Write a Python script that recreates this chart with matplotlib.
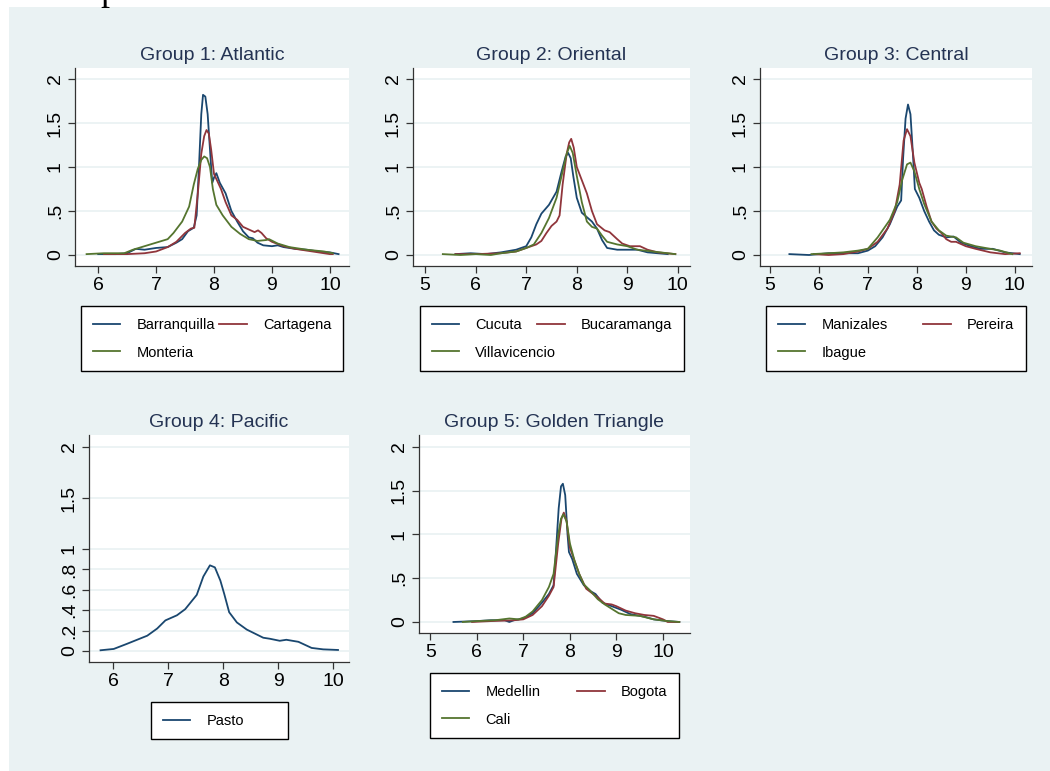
import matplotlib
matplotlib.use('Agg')
import matplotlib.pyplot as plt
from matplotlib.patches import Rectangle

plt.rcParams['font.family'] = ['Liberation Sans', 'DejaVu Sans']

W, H = 1050, 771

navy = '#1a476f'
maroon = '#90353b'
green = '#55752f'
bg = '#eaf2f3'
title_col = '#243353'

# ---- data ----
# group 1: Atlantic
bq_x = [6.0, 6.3, 6.5, 6.65, 6.8, 7.0, 7.2, 7.35, 7.45, 7.55, 7.65, 7.7, 7.74, 7.78, 7.81, 7.85, 7.89, 7.92,
        7.95, 7.97, 8.0, 8.04, 8.1, 8.2, 8.3, 8.4, 8.5, 8.6, 8.67, 8.75, 8.85, 9.0, 9.1, 9.2, 9.4, 9.6, 9.8, 10.0, 10.15]
bq_y = [0.01, 0.01, 0.02, 0.07, 0.06, 0.08, 0.09, 0.14, 0.18, 0.27, 0.31, 0.45, 1.0, 1.6, 1.82, 1.8, 1.6, 1.3,
        1.0, 0.82, 0.88, 0.93, 0.82, 0.7, 0.5, 0.38, 0.27, 0.2, 0.19, 0.14, 0.11, 0.1, 0.11, 0.09, 0.07, 0.06, 0.04, 0.03, 0.01]
ct_x = [6.1, 6.5, 6.8, 7.0, 7.2, 7.35, 7.5, 7.6, 7.66, 7.72, 7.78, 7.83, 7.87, 7.91, 7.95, 8.0, 8.05, 8.12,
        8.2, 8.3, 8.4, 8.5, 8.6, 8.7, 8.76, 8.82, 8.9, 9.0, 9.2, 9.4, 9.6, 9.8, 10.0, 10.05]
ct_y = [0.01, 0.01, 0.02, 0.04, 0.09, 0.15, 0.25, 0.3, 0.31, 0.7, 1.15, 1.35, 1.42, 1.38, 1.2, 0.92, 0.85, 0.75,
        0.6, 0.45, 0.4, 0.32, 0.29, 0.26, 0.28, 0.25, 0.19, 0.15, 0.1, 0.07, 0.05, 0.03, 0.01, 0.01]
mt_x = [5.8, 6.1, 6.45, 6.6, 6.8, 7.0, 7.2, 7.3, 7.45, 7.57, 7.65, 7.72, 7.78, 7.83, 7.88, 7.93, 7.98, 8.04,
        8.15, 8.3, 8.45, 8.6, 8.75, 8.9, 8.95, 9.1, 9.3, 9.6, 9.9, 10.05]
mt_y = [0.01, 0.02, 0.02, 0.06, 0.1, 0.14, 0.18, 0.25, 0.38, 0.55, 0.8, 0.98, 1.08, 1.12, 1.1, 1.0, 0.75, 0.57,
        0.45, 0.32, 0.24, 0.18, 0.16, 0.17, 0.18, 0.13, 0.09, 0.06, 0.04, 0.02]

# group 2: Oriental
cu_x = [5.6, 5.9, 6.2, 6.5, 6.8, 7.0, 7.1, 7.2, 7.3, 7.45, 7.6, 7.7, 7.78, 7.83, 7.88, 7.93, 8.0, 8.1,
        8.2, 8.3, 8.4, 8.5, 8.6, 8.8, 9.0, 9.2, 9.4, 9.6, 9.8]
cu_y = [0.01, 0.02, 0.01, 0.03, 0.06, 0.1, 0.2, 0.35, 0.47, 0.57, 0.72, 0.95, 1.12, 1.16, 1.1, 0.9, 0.65, 0.48,
        0.43, 0.38, 0.3, 0.17, 0.08, 0.06, 0.06, 0.06, 0.03, 0.02, 0.01]
bu_x = [5.6, 6.0, 6.5, 6.8, 7.0, 7.2, 7.3, 7.4, 7.5, 7.6, 7.66, 7.72, 7.8, 7.85, 7.89, 7.94, 8.0, 8.1,
        8.2, 8.3, 8.4, 8.55, 8.65, 8.8, 8.9, 9.05, 9.25, 9.4, 9.6, 9.95]
bu_y = [0.01, 0.01, 0.02, 0.04, 0.08, 0.12, 0.16, 0.25, 0.33, 0.38, 0.45, 0.8, 1.15, 1.28, 1.32, 1.22, 1.0, 0.85,
        0.7, 0.5, 0.35, 0.28, 0.26, 0.18, 0.13, 0.1, 0.1, 0.06, 0.03, 0.01]
vi_x = [5.35, 5.7, 6.0, 6.3, 6.5, 6.8, 7.0, 7.15, 7.3, 7.45, 7.6, 7.72, 7.8, 7.86, 7.92, 8.0, 8.1, 8.2,
        8.3, 8.4, 8.5, 8.6, 8.8, 9.0, 9.2, 9.5, 9.95]
vi_y = [0.01, 0.0, 0.01, 0.0, 0.02, 0.04, 0.08, 0.12, 0.25, 0.42, 0.65, 0.95, 1.15, 1.24, 1.16, 0.9, 0.6, 0.38,
        0.32, 0.3, 0.22, 0.15, 0.12, 0.1, 0.06, 0.04, 0.01]

# group 3: Central
mz_x = [5.4, 5.8, 6.0, 6.2, 6.6, 6.8, 7.0, 7.15, 7.3, 7.45, 7.6, 7.68, 7.72, 7.77, 7.82, 7.87, 7.92, 7.96,
        8.05, 8.15, 8.25, 8.35, 8.45, 8.6, 8.75, 8.9, 9.1, 9.3, 9.55, 9.8, 10.1]
mz_y = [0.01, 0.0, 0.01, 0.02, 0.02, 0.02, 0.05, 0.1, 0.2, 0.35, 0.55, 0.62, 1.1, 1.55, 1.71, 1.6, 1.15, 0.75,
        0.65, 0.5, 0.38, 0.28, 0.23, 0.2, 0.21, 0.14, 0.1, 0.07, 0.07, 0.03, 0.01]
pe_x = [5.9, 6.2, 6.5, 6.8, 7.0, 7.2, 7.4, 7.55, 7.65, 7.73, 7.8, 7.87, 7.95, 8.05, 8.1, 8.2, 8.3, 8.4,
        8.5, 8.6, 8.7, 8.8, 9.0, 9.2, 9.5, 9.8, 10.1]
pe_y = [0.01, 0.0, 0.01, 0.04, 0.07, 0.15, 0.3, 0.5, 0.8, 1.3, 1.43, 1.35, 1.05, 0.82, 0.75, 0.55, 0.38, 0.3,
        0.25, 0.18, 0.15, 0.15, 0.1, 0.07, 0.03, 0.01, 0.02]
ib_x = [5.85, 6.2, 6.5, 6.8, 7.0, 7.2, 7.3, 7.45, 7.6, 7.7, 7.8, 7.87, 7.95, 8.05, 8.15, 8.3, 8.45, 8.6,
        8.8, 8.95, 9.2, 9.5, 9.7, 9.95]
ib_y = [0.01, 0.02, 0.03, 0.05, 0.07, 0.2, 0.28, 0.4, 0.6, 0.85, 1.03, 1.05, 0.95, 0.75, 0.58, 0.38, 0.28, 0.22,
        0.2, 0.14, 0.1, 0.07, 0.05, 0.01]

# group 4: Pacific
pa_x = [5.77, 6.01, 6.25, 6.62, 6.8, 6.95, 7.16, 7.31, 7.52, 7.64, 7.76, 7.85, 7.95, 8.02, 8.11, 8.25, 8.43,
        8.73, 8.85, 9.03, 9.15, 9.37, 9.61, 9.82, 10.09]
pa_y = [0.007, 0.02, 0.07, 0.15, 0.22, 0.30, 0.35, 0.41, 0.55, 0.73, 0.84, 0.82, 0.69, 0.56, 0.38, 0.28, 0.21,
        0.13, 0.12, 0.10, 0.11, 0.09, 0.03, 0.016, 0.01]

# group 5: Golden Triangle
me_x = [5.5, 6.0, 6.3, 6.6, 6.7, 6.8, 7.0, 7.2, 7.4, 7.55, 7.65, 7.7, 7.76, 7.81, 7.85, 7.9, 7.95, 7.98,
        8.05, 8.15, 8.3, 8.45, 8.55, 8.7, 8.9, 9.1, 9.3, 9.6, 9.8, 10.1, 10.35]
me_y = [0.0, 0.01, 0.02, 0.02, 0.0, 0.02, 0.04, 0.1, 0.22, 0.32, 0.42, 0.8, 1.3, 1.55, 1.58, 1.45, 1.0, 0.8,
        0.72, 0.55, 0.42, 0.35, 0.32, 0.22, 0.18, 0.14, 0.09, 0.06, 0.03, 0.01, 0.0]
bo_x = [5.9, 6.3, 6.8, 7.0, 7.2, 7.4, 7.55, 7.65, 7.75, 7.82, 7.87, 7.93, 8.0, 8.1, 8.2, 8.35, 8.5, 8.6,
        8.75, 8.9, 9.0, 9.2, 9.4, 9.6, 9.8, 10.0, 10.1, 10.35]
bo_y = [0.0, 0.01, 0.02, 0.03, 0.08, 0.18, 0.3, 0.4, 0.9, 1.18, 1.25, 1.15, 0.85, 0.7, 0.55, 0.38, 0.32, 0.28,
        0.21, 0.2, 0.18, 0.13, 0.1, 0.08, 0.07, 0.03, 0.0, 0.0]
ca_x = [5.7, 6.0, 6.4, 6.7, 6.9, 7.05, 7.2, 7.4, 7.55, 7.65, 7.75, 7.81, 7.86, 7.93, 8.0, 8.1, 8.2, 8.3,
        8.45, 8.6, 8.75, 8.9, 9.05, 9.2, 9.5, 9.8, 10.1, 10.35]
ca_y = [0.0, 0.01, 0.02, 0.04, 0.03, 0.06, 0.12, 0.25, 0.4, 0.55, 1.0, 1.18, 1.23, 1.15, 0.9, 0.7, 0.55, 0.43,
        0.35, 0.26, 0.2, 0.15, 0.1, 0.08, 0.07, 0.03, 0.01, 0.0]

yt_main = [0, 0.5, 1, 1.5, 2]
yl_main = ['0', '.5', '1', '1.5', '2']
yt_pac = [0, 0.2, 0.4, 0.6, 0.8, 1, 1.5, 2]
yl_pac = ['0', '.2', '.4', '.6', '.8', '1', '1.5', '2']


def px_rect(l, t, r, b):
    return [l / W, 1 - b / H, (r - l) / W, (b - t) / H]


fig = plt.figure(figsize=(W / 100, H / 100), dpi=100)
fig.patch.set_facecolor('white')
fig.add_artist(Rectangle((9 / W, 0), 1 - 9 / W, 1 - 7 / H, transform=fig.transFigure,
                         facecolor=bg, edgecolor='none', zorder=-10))
# remains of a heading cut off at the top
fig.text(100 / W, 1.0, 'p', family='Liberation Serif', fontsize=26, va='baseline', color='black')


def panel(rect, title, series, xlim, ylim, xt, yt, yl, leg_box, ncol):
    ax = fig.add_axes(px_rect(*rect))
    ax.set_facecolor('white')
    lines = []
    for xs, ys, c, lab in series:
        ln, = ax.plot(xs, ys, color=c, lw=1.3, label=lab)
        lines.append(ln)
    ax.set_xlim(*xlim)
    ax.set_ylim(*ylim)
    ax.set_xticks(xt)
    ax.set_yticks(yt)
    ax.set_yticklabels(yl, rotation=90, va='center')
    for s in ['top', 'right']:
        ax.spines[s].set_visible(False)
    for s in ['left', 'bottom']:
        ax.spines[s].set_color('#333333')
        ax.spines[s].set_linewidth(0.9)
    ax.tick_params(direction='out', length=5, width=0.9, color='#333333', labelsize=14, pad=3)
    ax.grid(axis='y', color=bg, lw=1.3)
    ax.set_axisbelow(True)
    ax.set_title(title, color=title_col, fontsize=14, pad=6)
    # legend filled row by row like the original (A B / C)
    if len(lines) == 3:
        lines = [lines[0], lines[2], lines[1]]
    l, t, r, b = leg_box
    leg = ax.legend(handles=lines, loc='upper left', ncol=ncol, mode='expand',
                    bbox_to_anchor=(l / W, 1 - b / H, (r - l) / W, (b - t) / H),
                    bbox_transform=fig.transFigure, fontsize=10.5, frameon=True, fancybox=False,
                    edgecolor='black', framealpha=1, handlelength=1.9, handletextpad=1.1,
                    labelspacing=0.95, borderpad=0.8, borderaxespad=0)
    leg.get_frame().set_linewidth(1.0)
    return ax


panel((75, 68, 349, 266), 'Group 1: Atlantic',
      [(bq_x, bq_y, navy, 'Barranquilla'), (ct_x, ct_y, maroon, 'Cartagena'), (mt_x, mt_y, green, 'Monteria')],
      (5.6, 10.33), (-0.125, 2.125), [6, 7, 8, 9, 10], yt_main, yl_main, (81, 306, 343, 368), 2)

panel((413, 68, 690, 266), 'Group 2: Oriental',
      [(cu_x, cu_y, navy, 'Cucuta'), (bu_x, bu_y, maroon, 'Bucaramanga'), (vi_x, vi_y, green, 'Villavicencio')],
      (4.76, 10.24), (-0.125, 2.125), [5, 6, 7, 8, 9, 10], yt_main, yl_main, (420, 306, 684, 368), 2)

panel((760, 68, 1032, 266), 'Group 3: Central',
      [(mz_x, mz_y, navy, 'Manizales'), (pe_x, pe_y, maroon, 'Pereira'), (ib_x, ib_y, green, 'Ibague')],
      (4.8, 10.35), (-0.125, 2.125), [5, 6, 7, 8, 9, 10], yt_main, yl_main, (766, 306, 1026, 368), 2)

panel((89, 435, 349, 662), 'Group 4: Pacific',
      [(pa_x, pa_y, navy, 'Pasto')],
      (5.56, 10.29), (-0.108, 2.118), [6, 7, 8, 9, 10], yt_pac, yl_pac, (151, 702, 288, 734), 1)

panel((419, 435, 690, 633), 'Group 5: Golden Triangle',
      [(me_x, me_y, navy, 'Medellin'), (bo_x, bo_y, maroon, 'Bogota'), (ca_x, ca_y, green, 'Cali')],
      (4.76, 10.58), (-0.126, 2.137), [5, 6, 7, 8, 9, 10], yt_main, yl_main, (430, 673, 679, 734), 2)

fig.savefig('out.png', dpi=100, facecolor=fig.get_facecolor())
